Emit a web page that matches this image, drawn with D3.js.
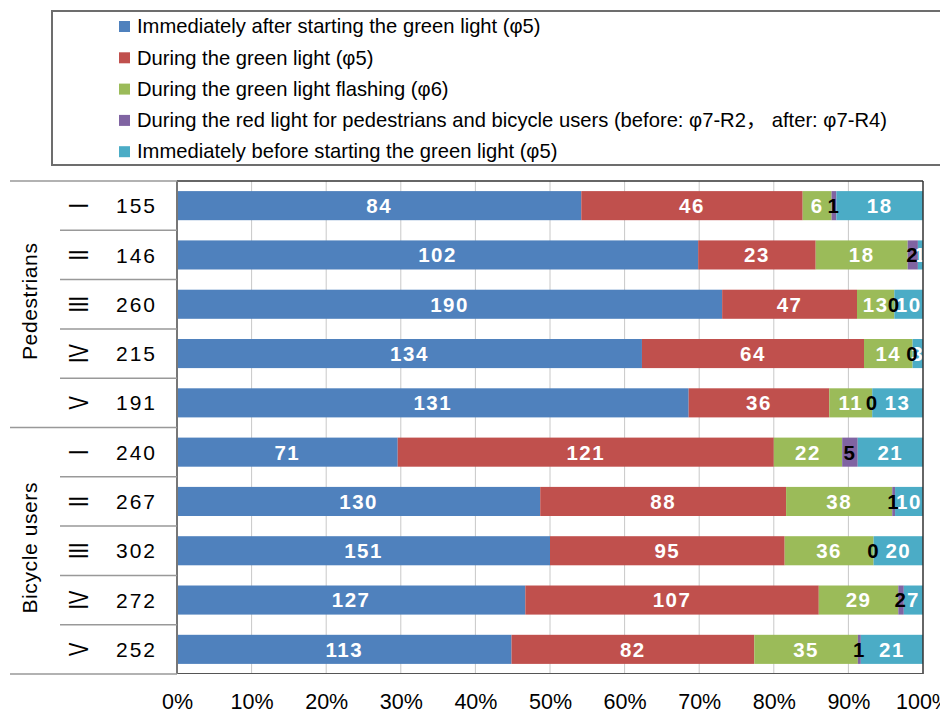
<!DOCTYPE html>
<html>
<head>
<meta charset="utf-8">
<script src="https://cdn.jsdelivr.net/npm/d3@7"></script>
<style>
  body { margin: 0; background: #fff; }
  svg { display: block; font-family: "Liberation Sans", Arial, "Noto Sans CJK JP", sans-serif; }
</style>
</head>
<body>
<div id="chart"></div>
<script>
// categories
const groups = ["Pedestrians", "Bicycle users"];
const phases = ["I", "II", "III", "IV", "V"];
const totals = [155, 146, 260, 215, 191, 240, 267, 302, 272, 252];

// series (counts per row, pedestrians first then bicycle users)
const seriesNames = [
  "Immediately after starting the green light (\u03c65)",
  "During the green light (\u03c65)",
  "During the green light flashing (\u03c66)",
  "During the red light for pedestrians and bicycle users (before: \u03c67-R2\uff0c after: \u03c67-R4)",
  "Immediately before starting the green light (\u03c65)"
];
const afterStart  = [84, 102, 190, 134, 131, 71, 130, 151, 127, 113];
const duringGreen = [46, 23, 47, 64, 36, 121, 88, 95, 107, 82];
const flashing    = [6, 18, 13, 14, 11, 22, 38, 36, 29, 35];
const redLight    = [1, 2, 0, 0, 0, 5, 1, 0, 2, 1];
const beforeStart = [18, 1, 10, 3, 13, 21, 10, 20, 7, 21];

const xTicks = [0, 0.1, 0.2, 0.3, 0.4, 0.5, 0.6, 0.7, 0.8, 0.9, 1];

const colors = ["#4F81BD", "#C0504D", "#9BBB59", "#8064A2", "#4BACC6"];
const labelColors = ["#fff", "#fff", "#fff", "#000", "#fff"];

const W = 940, H = 715;
const svg = d3.select("#chart").append("svg")
  .attr("width", W).attr("height", H);

// build rows
const allSeries = [afterStart, duringGreen, flashing, redLight, beforeStart];
const rows = totals.map((t, i) => {
  const r = { id: i, total: t, group: i < 5 ? 0 : 1, phase: phases[i % 5] };
  allSeries.forEach((s, k) => r["s" + k] = s[i]);
  return r;
});
const keys = allSeries.map((s, k) => "s" + k);
const stacked = d3.stack().keys(keys)
  .value((d, key) => d[key] / d.total)(rows);

const x = d3.scaleLinear().domain([0, 1]).range([177, 923]);
const y = d3.scaleBand().domain(rows.map(d => d.id))
  .range([181, 674]).paddingInner(0.41).paddingOuter(0.205);

// gridlines
svg.append("g")
  .selectAll("line").data(xTicks.slice(1, -1)).enter()
  .append("line")
  .attr("x1", d => x(d)).attr("x2", d => x(d))
  .attr("y1", 181).attr("y2", 674)
  .attr("stroke", "#c8c8c8").attr("stroke-width", 1);

// bars
svg.append("g").selectAll("g").data(stacked).enter()
  .append("g").attr("fill", (d, k) => colors[k])
  .selectAll("rect").data(d => d).enter()
  .append("rect")
  .attr("x", d => x(d[0]))
  .attr("width", d => x(d[1]) - x(d[0]))
  .attr("y", d => y(d.data.id))
  .attr("height", y.bandwidth());

// labels (purple series drawn last so it sits on top)
const labelOrder = [0, 1, 2, 4, 3];
labelOrder.forEach(k => {
  svg.append("g").selectAll("text").data(stacked[k]).enter()
    .append("text")
    .attr("x", d => (x(d[0]) + x(d[1])) / 2)
    .attr("y", d => y(d.data.id) + y.bandwidth() / 2)
    .attr("dy", "0.36em")
    .attr("text-anchor", "middle")
    .attr("font-size", 20.5)
    .attr("font-weight", "bold")
    .attr("letter-spacing", 1.5)
    .attr("fill", labelColors[k])
    .text(d => d.data["s" + k]);
});

// plot border
svg.append("line").attr("x1", 177).attr("x2", 923).attr("y1", 181).attr("y2", 181)
  .attr("stroke", "#333").attr("stroke-width", 1.5);
svg.append("line").attr("x1", 923).attr("x2", 923).attr("y1", 181).attr("y2", 674)
  .attr("stroke", "#333").attr("stroke-width", 1.5);
svg.append("line").attr("x1", 177).attr("x2", 923).attr("y1", 673.5).attr("y2", 673.5)
  .attr("stroke", "#555").attr("stroke-width", 1);
svg.append("line").attr("x1", 177).attr("x2", 177).attr("y1", 181).attr("y2", 674)
  .attr("stroke", "#777").attr("stroke-width", 2);

// x axis labels
const xAxis = d3.axisBottom(x).tickValues(xTicks)
  .tickFormat(d3.format(".0%")).tickSize(0).tickPadding(0);
const gx = svg.append("g").attr("transform", "translate(0,694)").call(xAxis);
gx.select(".domain").remove();
gx.selectAll("text").attr("font-size", 21.5).attr("font-family", "Liberation Sans, Arial, sans-serif")
  .attr("fill", "#000").attr("dy", "0.72em");

// left table lines
const step = y.step();
const tableLines = d3.range(0, 11).map(i => 181 + i * step);
svg.append("g").selectAll("line").data(tableLines).enter()
  .append("line")
  .attr("x1", (d, i) => (i % 5 === 0) ? 10 : 60)
  .attr("x2", 177)
  .attr("y1", d => d).attr("y2", d => d)
  .attr("stroke", "#999").attr("stroke-width", 1.5);

// group labels
svg.append("g").selectAll("text").data(groups).enter()
  .append("text")
  .attr("transform", (d, i) => `translate(37,${181 + (i * 5 + 2.5) * step - 3}) rotate(-90)`)
  .attr("text-anchor", "middle")
  .attr("font-size", 21)
  .attr("letter-spacing", 0.6)
  .text(d => d);

// phase numerals (rotated roman numerals)
svg.append("g").selectAll("text").data(rows).enter()
  .append("text")
  .attr("transform", d => `translate(78,${y(d.id) + y.bandwidth() / 2}) rotate(-90) scale(1,1.4)`)
  .attr("text-anchor", "middle")
  .attr("dy", "0.36em")
  .attr("font-size", 20)
  .text(d => d.phase);

// totals
svg.append("g").selectAll("text").data(rows).enter()
  .append("text")
  .attr("x", 157)
  .attr("y", d => y(d.id) + y.bandwidth() / 2)
  .attr("dy", "0.36em")
  .attr("text-anchor", "end")
  .attr("font-size", 21)
  .attr("letter-spacing", 2)
  .text(d => d.total);

// legend
const lg = svg.append("g");
lg.append("rect").attr("x", 52).attr("y", 11).attr("width", 950).attr("height", 154)
  .attr("fill", "#fff").attr("stroke", "#6d6d6d").attr("stroke-width", 2);
const li = lg.selectAll("g.item").data(seriesNames).enter()
  .append("g").attr("class", "item")
  .attr("transform", (d, i) => `translate(0,${26 + i * 31.3})`);
li.append("rect").attr("x", 119).attr("y", -5).attr("width", 11).attr("height", 11)
  .attr("fill", (d, i) => colors[i]);
li.append("text").attr("x", 137).attr("dy", "0.36em")
  .attr("font-size", 20.2)
  .attr("font-family", "Liberation Sans, Arial, Noto Sans CJK JP, sans-serif")
  .text(d => d);
</script>
</body>
</html>
